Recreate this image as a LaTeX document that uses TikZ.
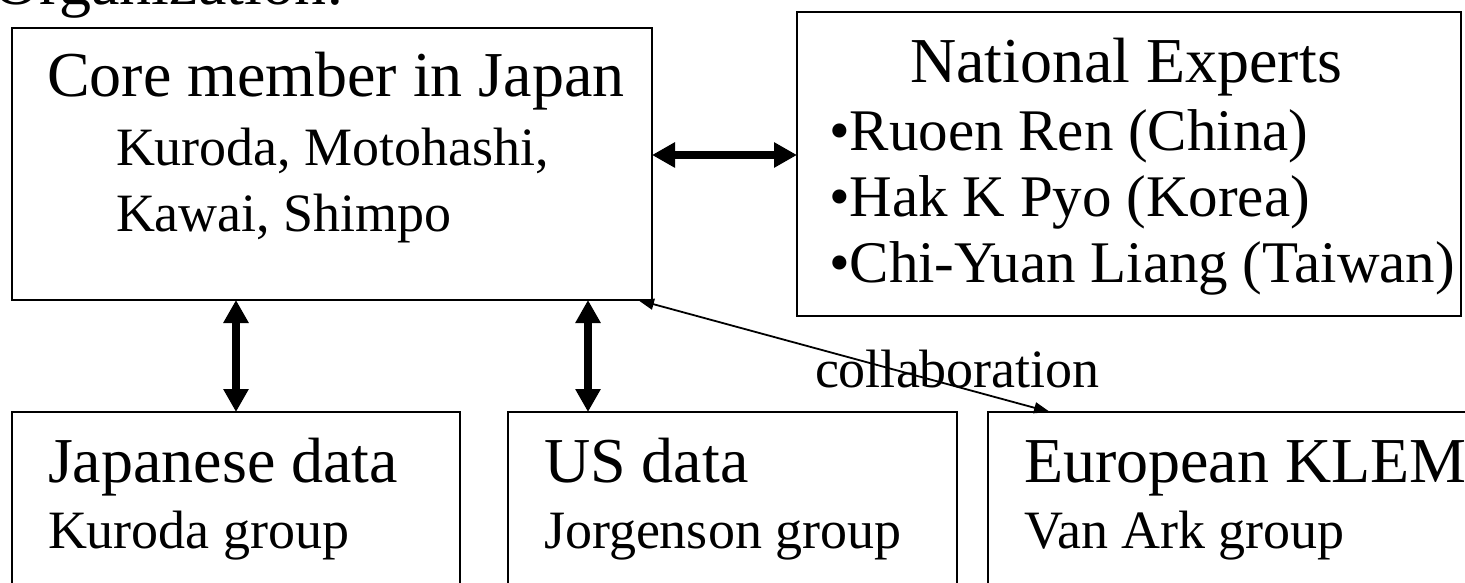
\documentclass[tikz,border=0pt]{standalone}
\usepackage{fontspec}
\setmainfont{Liberation Serif}
\usetikzlibrary{arrows.meta}
\begin{document}
\begin{tikzpicture}[x=1pt,y=-1pt,
  box/.style={draw=black, line width=2pt, inner sep=0pt, outer sep=0pt},
  txt/.style={anchor=base west, inner sep=0pt, outer sep=0pt},
  ttl/.style={txt, font=\fontsize{64}{64}\selectfont},
  sub/.style={txt, font=\fontsize{54}{54}\selectfont},
  bul/.style={txt, font=\fontsize{59}{59}\selectfont},
  bigarrow/.style={line width=7.5pt, {Triangle[length=23pt,width=24pt]}-{Triangle[length=23pt,width=24pt]}},
  thinarrow/.style={line width=1.8pt, {Triangle[length=16pt,width=11pt]}-{Triangle[length=16pt,width=11pt]}}]
\clip (0,0) rectangle (1465,583);
\fill[white] (0,0) rectangle (1465,583);

% title (cut off at the top, as in the reference)
\node[anchor=base east, inner sep=0pt, font=\fontsize{64}{64}\selectfont] (org) at (344,5) {Organization:};

% boxes
\node[box, minimum width=640pt, minimum height=272pt] (core) at (332,164) {};
\node[box, minimum width=664pt, minimum height=304pt] (nat) at (1129,164) {};
\node[box, minimum width=448pt, minimum height=208pt] (jp) at (236,516) {};
\node[box, minimum width=449pt, minimum height=208pt] (us) at (732.5,516) {};
\node[box, minimum width=512pt, minimum height=208pt] (eu) at (1244,516) {};

% texts
\node[ttl] (coret) at (47,97) {Core member in Japan};
\node[sub] (cores1) at (116,165) {Kuroda, Motohashi,};
\node[sub] (cores2) at (116,231) {Kawai, Shimpo};

\node[ttl] (natt) at (910,83) {National Experts};
\node[bul] (nat1) at (829,150) {•Ruoen Ren (China)};
\node[bul] (nat2) at (829,216) {•Hak K Pyo (Korea)};
\node[bul] (nat3) at (829,282) {•Chi-Yuan Liang (Taiwan)};

\node[ttl] (jpt) at (48,482) {Japanese data};
\node[sub] (jps) at (48,548) {Kuroda group};
\node[ttl] (ust) at (544,482) {US data};
\node[sub] (uss) at (544,548) {Jorgenson group};
\node[ttl] (eut) at (1024,482) {European KLEM};
\node[sub] (eus) at (1024,548) {Van Ark group};

\node[sub] (collab) at (815,387) {collaboration};

% connectors
\draw[bigarrow] ([yshift=9pt]core.east) -- ([yshift=9pt]nat.west);
\draw[bigarrow] (core.south -| jp.north) -- (jp.north);
\coordinate (usarr) at ([xshift=80pt]us.north west);
\draw[bigarrow] (usarr |- core.south) -- (usarr);
\draw[thinarrow] ([xshift=-14pt]core.south east) -- ([xshift=62pt]eu.north west);
\end{tikzpicture}
\end{document}
